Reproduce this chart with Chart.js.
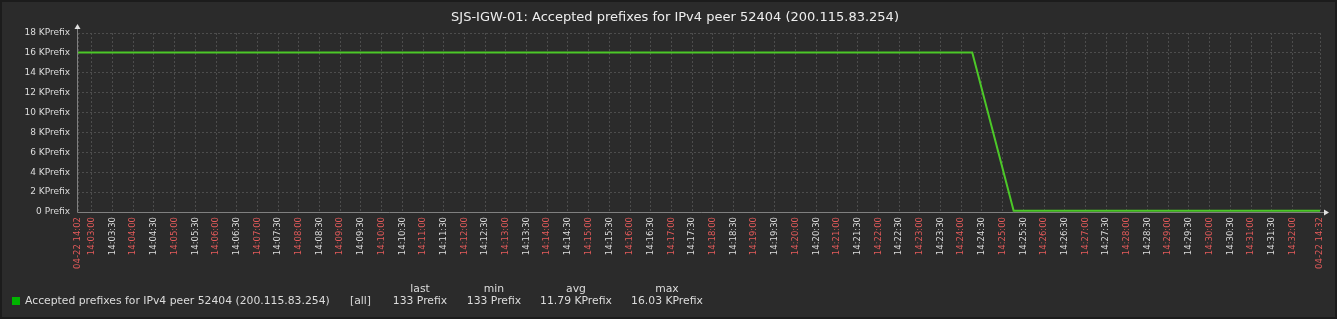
<!DOCTYPE html>
<html>
<head>
<meta charset="utf-8">
<script src="https://cdn.jsdelivr.net/npm/chart.js@4.4.0/dist/chart.umd.min.js"></script>
<style>
  html, body { margin: 0; padding: 0; background: #2b2b2b; }
  #wrap { width: 1337px; height: 319px; position: relative; }
</style>
</head>
<body>
<div id="wrap"><canvas id="graph" width="1337" height="319"></canvas></div>
<script>
// Graph data
const graphTitle = 'SJS-IGW-01: Accepted prefixes for IPv4 peer 52404 (200.115.83.254)';
const itemName = 'Accepted prefixes for IPv4 peer 52404 (200.115.83.254)';

// sample times (one per minute) and accepted prefix counts
const sampleTimes = ['14:02:16', '14:03:16', '14:04:16', '14:05:16', '14:06:16', '14:07:16', '14:08:16',
    '14:09:16', '14:10:16', '14:11:16', '14:12:16', '14:13:16', '14:14:16', '14:15:16', '14:16:16',
    '14:17:16', '14:18:16', '14:19:16', '14:20:16', '14:21:16', '14:22:16', '14:23:16', '14:24:16',
    '14:25:16', '14:26:16', '14:27:16', '14:28:16', '14:29:16', '14:30:16', '14:31:16', '14:32:16', '14:33:16'];
const prefixValues = [16030, 16030, 16030, 16030, 16030, 16030, 16030,
    16030, 16030, 16030, 16030, 16030, 16030, 16030, 16030,
    16030, 16030, 16030, 16030, 16030, 16030, 16030, 16030,
    133, 133, 133, 133, 133, 133, 133, 133, 133];

// time window and tick labels
const periodStart = '14:02:40';
const periodEnd = '14:32:40';
const startLabel = '04-22 14:02';
const endLabel = '04-22 14:32';
const yTicks = [0, 2000, 4000, 6000, 8000, 10000, 12000, 14000, 16000, 18000];

// legend columns
const legendHeaders = ['last', 'min', 'avg', 'max'];
const legendValues = ['133 Prefix', '133 Prefix', '11.79 KPrefix', '16.03 KPrefix'];

// helpers
function toSec(t) {
    const p = t.split(':').map(Number);
    return p[0] * 3600 + p[1] * 60 + p[2];
}
function fmtTime(s) {
    const h = Math.floor(s / 3600), m = Math.floor(s / 60) % 60, sec = s % 60;
    return [h, m, sec].map(v => String(v).padStart(2, '0')).join(':');
}

const xMin = toSec(periodStart);
const xMax = toSec(periodEnd);

const points = sampleTimes.map((t, i) => ({ x: toSec(t), y: prefixValues[i] }));

// tick positions: start, every 30s (not too close to the end), end
const xTickValues = [xMin];
for (let s = Math.ceil(xMin / 30) * 30; s < xMax - 15; s += 30) {
    if (s > xMin) xTickValues.push(s);
}
xTickValues.push(xMax);

const FONT = 'DejaVu Sans';
const RED = '#e35a5a';
const LIGHT = '#dcdcdc';

// background, axes with arrows, title and legend
const decorPlugin = {
    id: 'decor',
    beforeDraw(chart) {
        const ctx = chart.ctx;
        ctx.save();
        ctx.fillStyle = '#2b2b2b';
        ctx.fillRect(0, 0, chart.width, chart.height);
        ctx.strokeStyle = '#1c1c1c';
        ctx.lineWidth = 2;
        ctx.strokeRect(1, 1, chart.width - 2, chart.height - 2);
        ctx.restore();
    },
    afterDraw(chart) {
        const ctx = chart.ctx;
        const a = chart.chartArea;
        ctx.save();

        // axis lines
        ctx.strokeStyle = '#808080';
        ctx.lineWidth = 1;
        ctx.beginPath();
        ctx.moveTo(a.left - 0.5, a.bottom + 0.5);
        ctx.lineTo(a.left - 0.5, a.top - 5);
        ctx.moveTo(a.left - 0.5, a.bottom + 0.5);
        ctx.lineTo(a.right + 5, a.bottom + 0.5);
        ctx.stroke();

        // arrows
        ctx.fillStyle = '#e0e0e0';
        ctx.beginPath();
        ctx.moveTo(a.left - 0.5, a.top - 9);
        ctx.lineTo(a.left - 3.5, a.top - 4);
        ctx.lineTo(a.left + 2.5, a.top - 4);
        ctx.closePath();
        ctx.fill();
        ctx.beginPath();
        ctx.moveTo(a.right + 9, a.bottom + 0.5);
        ctx.lineTo(a.right + 4, a.bottom - 2.5);
        ctx.lineTo(a.right + 4, a.bottom + 3.5);
        ctx.closePath();
        ctx.fill();

        // title
        ctx.fillStyle = '#eeeeee';
        ctx.font = '13px "' + FONT + '"';
        ctx.textAlign = 'center';
        ctx.textBaseline = 'middle';
        ctx.fillText(graphTitle, 675, 18);

        // legend
        ctx.fillStyle = '#00b400';
        ctx.fillRect(12, 297, 8, 8);
        ctx.fillStyle = LIGHT;
        ctx.font = '10.8px "' + FONT + '"';
        ctx.textAlign = 'left';
        ctx.fillText(itemName, 25, 301);
        ctx.fillText('[all]', 350, 301);
        const centers = [420, 494, 576, 667];
        ctx.textAlign = 'center';
        legendHeaders.forEach((h, i) => ctx.fillText(h, centers[i], 289));
        legendValues.forEach((v, i) => ctx.fillText(v, centers[i], 301));

        ctx.restore();
    }
};

const chart = new Chart(document.getElementById('graph'), {
    type: 'line',
    data: {
        datasets: [{
            label: itemName,
            data: points,
            borderColor: '#4cc828',
            borderWidth: 2,
            pointRadius: 0,
            tension: 0,
            fill: false
        }]
    },
    options: {
        responsive: false,
        animation: false,
        events: [],
        layout: { padding: { top: 33, right: 17, left: 0, bottom: 0 } },
        plugins: {
            legend: { display: false },
            title: { display: false },
            tooltip: { enabled: false }
        },
        scales: {
            x: {
                type: 'linear',
                min: xMin,
                max: xMax,
                afterBuildTicks: scale => {
                    scale.ticks = xTickValues.map(v => ({ value: v }));
                },
                afterFit: scale => { scale.height = 107; },
                grid: { color: '#4d4d4d', drawTicks: false },
                border: { display: false, dash: [2, 2] },
                ticks: {
                    autoSkip: false,
                    minRotation: 90,
                    maxRotation: 90,
                    padding: 5,
                    font: { family: FONT, size: 8.5 },
                    color: ctx => {
                        const v = ctx.tick.value;
                        return (v === xMin || v === xMax || v % 60 === 0) ? RED : LIGHT;
                    },
                    callback: v => {
                        if (v === xMin) return startLabel;
                        if (v === xMax) return endLabel;
                        return fmtTime(v);
                    }
                }
            },
            y: {
                min: 0,
                max: 18000,
                afterBuildTicks: scale => {
                    scale.ticks = yTicks.map(v => ({ value: v }));
                },
                afterFit: scale => { scale.width = 78; },
                grid: { color: '#4d4d4d', drawTicks: false },
                border: { display: false, dash: [2, 2] },
                ticks: {
                    padding: 8,
                    font: { family: FONT, size: 9 },
                    color: LIGHT,
                    callback: v => v === 0 ? '0 Prefix' : (v / 1000) + ' KPrefix'
                }
            }
        }
    },
    plugins: [decorPlugin]
});
</script>
</body>
</html>
